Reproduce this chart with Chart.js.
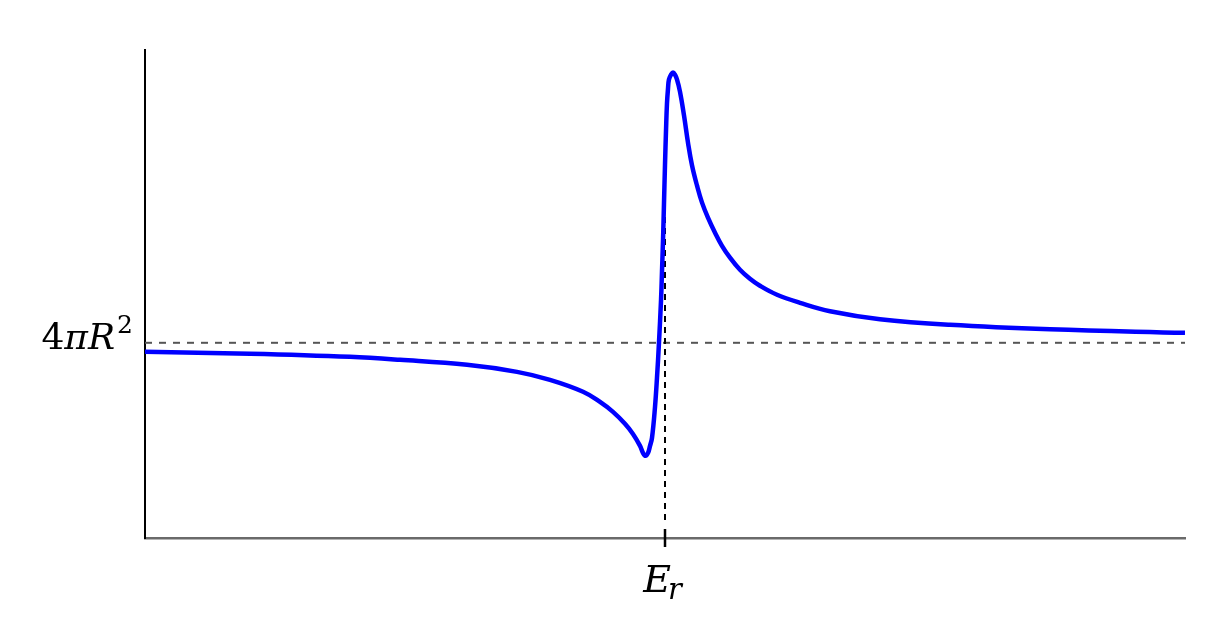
<!DOCTYPE html>
<html>
<head>
<meta charset="utf-8">
<script src="https://cdn.jsdelivr.net/npm/chart.js@4/dist/chart.umd.min.js"></script>
<style>
  body { margin: 0; background: #fff; }
  #wrap { width: 1211px; height: 619px; position: relative; }
</style>
</head>
<body>
<div id="wrap"><canvas id="resonance"></canvas></div>
<script>
// Cross section curve near a resonance (x in arbitrary energy units, y in units of 4*pi*R^2)
const energy = [0, 1.010, 1.971, 2.452, 3.096, 3.577, 3.894, 4.212, 4.375, 4.5, 4.615, 4.692, 4.76, 4.788, 4.813, 4.837, 4.856, 4.875, 4.904, 4.923, 4.942, 4.962, 4.971, 4.981, 4.99, 5.0, 5.01, 5.019, 5.029, 5.038, 5.058, 5.077, 5.096, 5.115, 5.144, 5.183, 5.221, 5.26, 5.308, 5.356, 5.413, 5.481, 5.548, 5.625, 5.721, 5.817, 5.913, 6.077, 6.298, 6.587, 7.067, 7.74, 8.702, 10];
const sigma = [0.954, 0.944, 0.928, 0.913, 0.887, 0.851, 0.81, 0.749, 0.697, 0.646, 0.585, 0.533, 0.472, 0.436, 0.421, 0.436, 0.472, 0.513, 0.672, 0.821, 1.0, 1.221, 1.364, 1.528, 1.708, 1.913, 2.092, 2.226, 2.303, 2.349, 2.374, 2.385, 2.374, 2.349, 2.287, 2.164, 2.026, 1.908, 1.805, 1.718, 1.641, 1.564, 1.497, 1.436, 1.374, 1.328, 1.292, 1.246, 1.205, 1.162, 1.121, 1.092, 1.069, 1.051];

// reference lines
const potentialX = [0, 10];
const potentialY = [1, 1];
const resonanceX = [5, 5];
const resonanceY = [0.092, 1.733];

// axis labels
const xTicks = [5];
const xTickLabels = [['E', 'r']];
const yTicks = [1];
const yTickLabels = [['4', 'πR', '2']];

function toPoints(xs, ys) {
  return xs.map((x, i) => ({ x: x, y: ys[i] }));
}

// draws the single tick + math-style labels at the axis values
const mathLabels = {
  id: 'mathLabels',
  afterDraw(chart) {
    const ctx = chart.ctx;
    const xs = chart.scales.x;
    const ys = chart.scales.y;
    ctx.save();
    ctx.fillStyle = '#000';
    ctx.textBaseline = 'alphabetic';

    xTicks.forEach((v, i) => {
      const px = xs.getPixelForValue(v);
      const base = xs.top;
      ctx.strokeStyle = '#000';
      ctx.lineWidth = 2.5;
      ctx.beginPath();
      ctx.moveTo(px, base - 9);
      ctx.lineTo(px, base + 9);
      ctx.stroke();

      const [main, sub] = xTickLabels[i];
      ctx.font = 'italic 38px "DejaVu Serif"';
      const w1 = ctx.measureText(main).width;
      ctx.font = 'italic 29px "DejaVu Serif"';
      const w2 = ctx.measureText(sub).width;
      const left = px - (w1 + w2) / 2 - 1;
      ctx.font = 'italic 38px "DejaVu Serif"';
      ctx.textAlign = 'left';
      ctx.fillText(main, left, base + 54);
      ctx.font = 'italic 29px "DejaVu Serif"';
      ctx.fillText(sub, left + w1 - 3, base + 61);
    });

    yTicks.forEach((v, i) => {
      const py = ys.getPixelForValue(v);
      const right = ys.right - 12;
      const [num, sym, sup] = yTickLabels[i];
      ctx.textAlign = 'left';
      ctx.font = '25px "DejaVu Serif"';
      const wSup = ctx.measureText(sup).width;
      ctx.font = 'italic 36px "DejaVu Serif"';
      const wSym = ctx.measureText(sym).width;
      ctx.font = '36px "DejaVu Serif"';
      const wNum = ctx.measureText(num).width;
      let x = right - wSup - wSym - wNum - 2;
      ctx.fillText(num, x, py + 6);
      x += wNum;
      ctx.font = 'italic 36px "DejaVu Serif"';
      ctx.fillText(sym, x, py + 6);
      x += wSym + 2;
      ctx.font = '25px "DejaVu Serif"';
      ctx.fillText(sup, x, py - 10);
    });
    ctx.restore();
  }
};

const ctx = document.getElementById('resonance').getContext('2d');
new Chart(ctx, {
  type: 'line',
  data: {
    datasets: [
      {
        label: 'sigma',
        data: toPoints(energy, sigma),
        borderColor: '#0000ff',
        borderWidth: 4.5,
        pointRadius: 0,
        tension: 0.4,
        order: 0
      },
      {
        label: '4piR2',
        data: toPoints(potentialX, potentialY),
        borderColor: '#555555',
        borderWidth: 2,
        borderDash: [7, 7],
        pointRadius: 0,
        order: 2
      },
      {
        label: 'Er',
        data: toPoints(resonanceX, resonanceY),
        borderColor: '#000000',
        borderWidth: 2,
        borderDash: [6, 5],
        pointRadius: 0,
        order: 1
      }
    ]
  },
  options: {
    responsive: true,
    maintainAspectRatio: false,
    animation: false,
    layout: { padding: { top: 50, right: 26, left: 0, bottom: 0 } },
    plugins: {
      legend: { display: false },
      tooltip: { enabled: false }
    },
    scales: {
      x: {
        type: 'linear',
        min: 0,
        max: 10,
        grid: { display: false },
        ticks: { display: false },
        border: { color: '#6a6a6a', width: 2.5 },
        afterFit(scale) { scale.height = 81; }
      },
      y: {
        type: 'linear',
        min: 0,
        max: 2.5,
        grid: { display: false },
        ticks: { display: false },
        border: { color: '#000000', width: 2 },
        afterFit(scale) { scale.width = 145; }
      }
    }
  },
  plugins: [mathLabels]
});
</script>
</body>
</html>
